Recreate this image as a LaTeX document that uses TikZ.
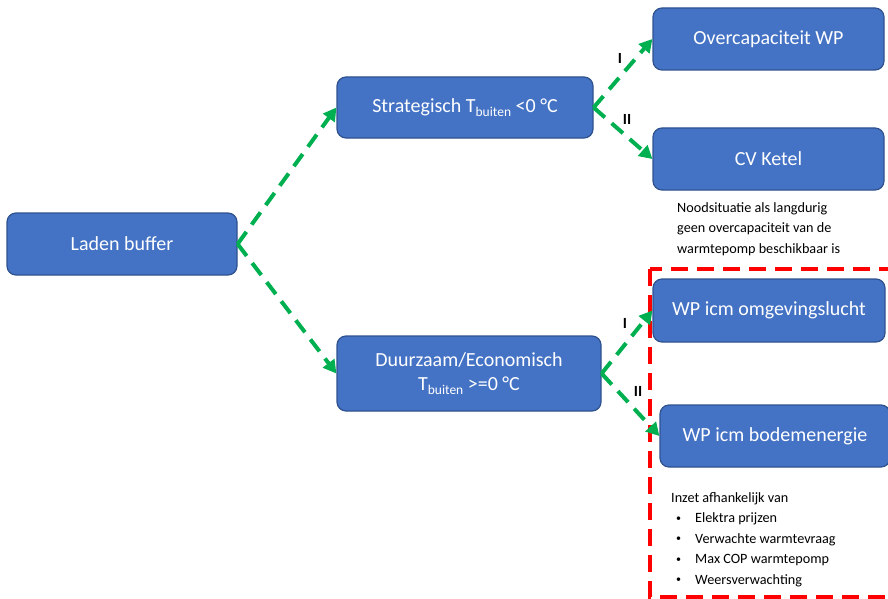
\documentclass[tikz,border=0pt]{standalone}
\usepackage{fontspec}
\setmainfont{Carlito}
\usetikzlibrary{arrows.meta, positioning}
\definecolor{boxBlue}{HTML}{4472C4}
\definecolor{boxEdge}{HTML}{2F528F}
\definecolor{flowGreen}{HTML}{00B050}
\definecolor{zoneRed}{HTML}{FF0000}
\newcommand{\Tbuiten}{T\raisebox{-0.45ex}{\fontsize{13.5}{13.5}\selectfont buiten}}
\newcommand{\bul}{\makebox[24pt][l]{\hspace{5pt}\raisebox{0.2ex}{\fontsize{10}{10}\selectfont•}}}

\begin{document}
\begin{tikzpicture}[x=1pt, y=-1pt,
    block/.style={draw=boxEdge, line width=1.2pt, fill=boxBlue, rounded corners=9pt,
        text=white, font=\fontsize{20}{24}\selectfont, align=center, inner sep=0pt},
    flow/.style={flowGreen, line width=4pt, dash pattern=on 15pt off 9pt,
        -{Triangle[length=13pt, width=14pt]}},
    note/.style={font=\fontsize{14.2}{20.5}\selectfont, align=left, inner sep=0pt, anchor=north west},
    roman/.style={font=\fontsize{15.5}{15.5}\selectfont\bfseries}]
    \useasboundingbox (0,0) rectangle (888,599);

    % zone for the heat pump options
    \draw[zoneRed, line width=3.5pt, dash pattern=on 17pt off 9pt] (650,269) rectangle (900,597);

    % boxes
    \node[block, minimum width=230pt, minimum height=62pt] (laden) at (122,244) {Laden buffer};
    \node[block, minimum width=256pt, minimum height=61pt] (strat) at (465,107.5) {Strategisch \Tbuiten\ <0 °C};
    \node[block, minimum width=264pt, minimum height=75pt] (duur) at (469,373.5) {Duurzaam/Economisch\\\Tbuiten\ >=0 °C};
    \node[block, minimum width=231pt, minimum height=62pt] (overcap) at (768.5,39) {Overcapaciteit WP};
    \node[block, minimum width=231pt, minimum height=62pt] (ketel) at (768.5,159) {CV Ketel};
    \node[block, minimum width=232pt, minimum height=63pt] (lucht) at (769,310.5) {WP icm omgevingslucht};
    \node[block, minimum width=230pt, minimum height=62pt] (bodem) at (775,436) {WP icm bodemenergie};

    % arrows
    \draw[flow] (laden.east) -- (strat.west);
    \draw[flow] (laden.east) -- (duur.west);
    \draw[flow] (strat.east) -- (overcap.west);
    \draw[flow] (strat.east) -- (ketel.west);
    \draw[flow] (duur.east) -- (lucht.west);
    \draw[flow] (duur.east) -- (bodem.west);

    \node[roman] (s1) at (620,58) {I};
    \node[roman] (s2) at (627,119) {II};
    \node[roman] (d1) at (625,323) {I};
    \node[roman] (d2) at (638,391) {II};

    % notes
    \node[note] (nood) at (677,202) {Noodsituatie als langdurig\\geen overcapaciteit van de\\warmtepomp beschikbaar is};
    \node[note] (inzet) at (671,492) {Inzet afhankelijk van\\
        \bul Elektra prijzen\\
        \bul Verwachte warmtevraag\\
        \bul Max COP warmtepomp\\
        \bul Weersverwachting};
\end{tikzpicture}
\end{document}
